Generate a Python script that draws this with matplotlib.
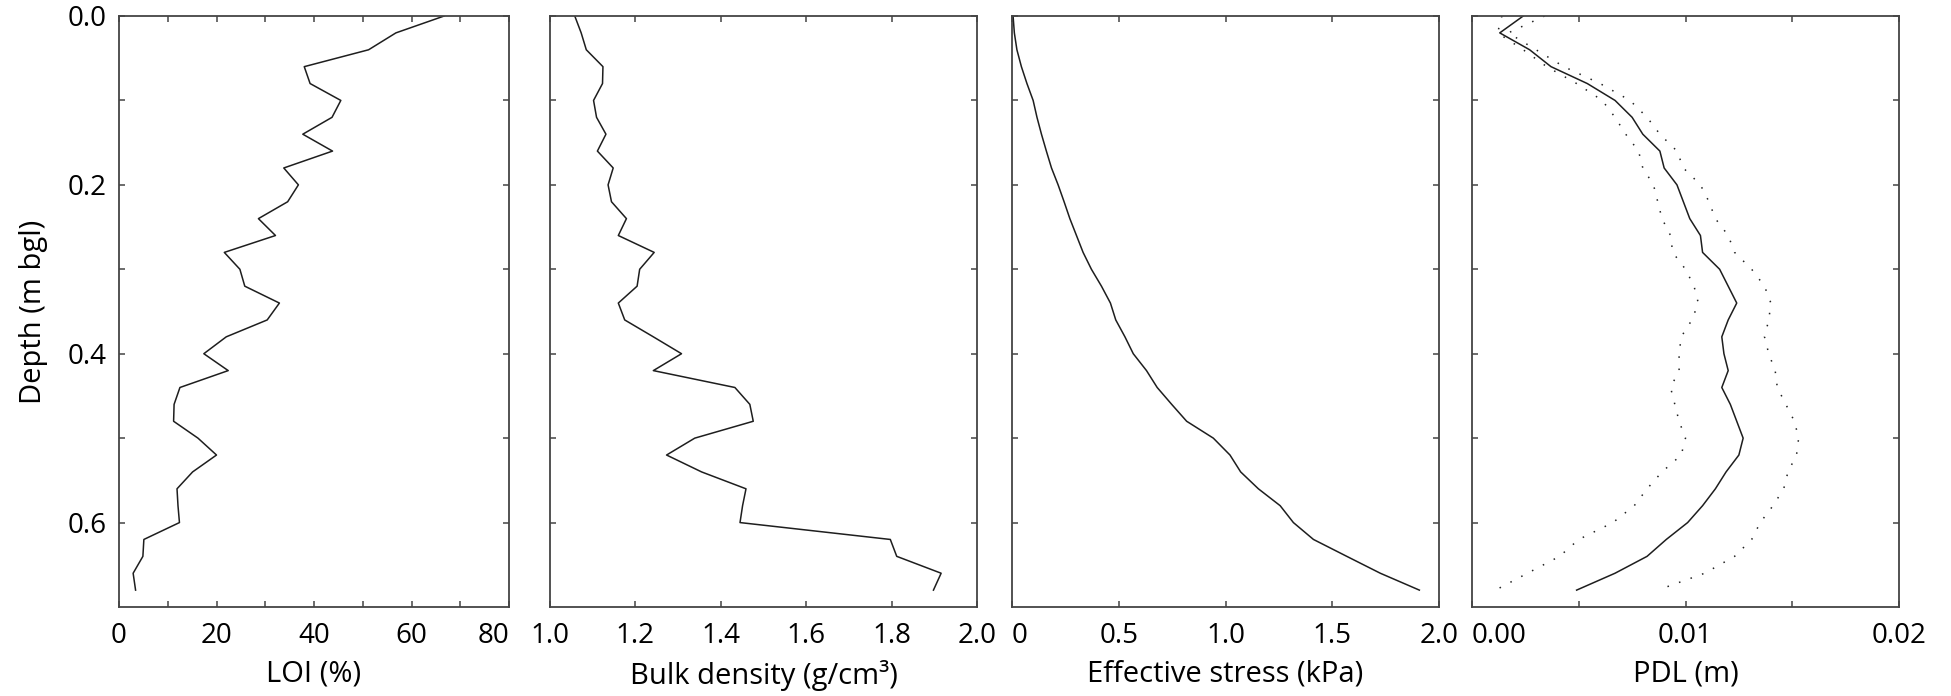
import matplotlib
matplotlib.use("Agg")
import matplotlib.pyplot as plt

plt.rcParams['font.family'] = ['Open Sans', 'DejaVu Sans']

depth = [0.00, 0.02, 0.04, 0.06, 0.08, 0.10, 0.12, 0.14, 0.16, 0.18,
         0.20, 0.22, 0.24, 0.26, 0.28, 0.30, 0.32, 0.34, 0.36, 0.38,
         0.40, 0.42, 0.44, 0.46, 0.48, 0.50, 0.52, 0.54, 0.56, 0.58,
         0.60, 0.62, 0.64, 0.66, 0.68]

loi = [66.7, 56.8, 51.2, 38.0, 39.2, 45.5, 43.7, 37.7, 43.8, 33.8,
       36.8, 34.6, 28.6, 32.1, 21.6, 24.8, 25.8, 32.9, 30.4, 22.0,
       17.4, 22.4, 12.5, 11.3, 11.2, 16.2, 20.0, 15.1, 11.9, 12.1,
       12.4, 5.1, 4.9, 2.9, 3.4]

bulk_density = [1.058, 1.073, 1.085, 1.124, 1.123, 1.102, 1.109, 1.131, 1.111, 1.148,
                1.136, 1.144, 1.179, 1.160, 1.244, 1.210, 1.204, 1.160, 1.175, 1.242,
                1.308, 1.242, 1.433, 1.468, 1.476, 1.339, 1.273, 1.355, 1.459, 1.451,
                1.445, 1.797, 1.812, 1.916, 1.898]

eff_stress = [0.005, 0.011, 0.023, 0.044, 0.070, 0.099, 0.117, 0.138, 0.161, 0.185,
              0.216, 0.244, 0.271, 0.302, 0.333, 0.372, 0.419, 0.461, 0.486, 0.529,
              0.568, 0.630, 0.680, 0.748, 0.818, 0.943, 1.021, 1.071, 1.154, 1.256,
              1.318, 1.412, 1.568, 1.725, 1.908]

pdl = [0.0024, 0.0013, 0.0027, 0.0037, 0.0054, 0.0067, 0.0075, 0.0080, 0.0088, 0.0090,
       0.0096, 0.0099, 0.0102, 0.0107, 0.0108, 0.0116, 0.0120, 0.0124, 0.0120, 0.0117,
       0.0118, 0.0120, 0.0117, 0.0121, 0.0124, 0.0127, 0.0125, 0.0119, 0.0114, 0.0108,
       0.0101, 0.0091, 0.0082, 0.0067, 0.0049]

pdl_low = [0.0014, 0.0012, 0.0024, 0.0035, 0.0049, 0.0061, 0.0067, 0.0072, 0.0078, 0.0080,
           0.0085, 0.0087, 0.0089, 0.0093, 0.0094, 0.0100, 0.0104, 0.0106, 0.0103, 0.0098,
           0.0097, 0.0097, 0.0093, 0.0095, 0.0097, 0.0100, 0.0098, 0.0089, 0.0082, 0.0076,
           0.0066, 0.0050, 0.0041, 0.0026, 0.0011]

pdl_high = [0.0034, 0.0017, 0.0030, 0.0043, 0.0060, 0.0074, 0.0082, 0.0088, 0.0096, 0.0099,
            0.0107, 0.0111, 0.0114, 0.0120, 0.0123, 0.0131, 0.0137, 0.0140, 0.0139, 0.0137,
            0.0139, 0.0142, 0.0143, 0.0147, 0.0151, 0.0153, 0.0152, 0.0148, 0.0146, 0.0141,
            0.0135, 0.0131, 0.0123, 0.0109, 0.0087]

W, H = 1951, 696
fig = plt.figure(figsize=(W / 100, H / 100), dpi=100)

top, bottom = 16, 607
panels = [(119, 509), (550, 977), (1012, 1439), (1472, 1899)]
axes = []
for left, right in panels:
    ax = fig.add_axes([left / W, (H - bottom) / H, (right - left) / W, (bottom - top) / H])
    axes.append(ax)

line_kw = dict(color='#1e1e1e', lw=1.1)
spine_col = '#444444'
tick_fs = 20
label_fs = 21


def style(ax):
    ax.set_ylim(0.7, 0.0)
    ax.set_yticks([0.0, 0.1, 0.2, 0.3, 0.4, 0.5, 0.6])
    for s in ax.spines.values():
        s.set_linewidth(1.3)
        s.set_color(spine_col)
    ax.tick_params(direction='in', length=4, width=1.1, color=spine_col,
                   top=True, right=True, labelsize=tick_fs)
    ax.tick_params(axis='x', pad=11)
    ax.tick_params(axis='y', pad=9)


# LOI
ax = axes[0]
ax.plot(loi, depth, **line_kw)
style(ax)
ax.set_xlim(0, 80)
ax.set_xticks(range(0, 81, 10))
ax.set_xticklabels(['0', '', '20', '', '40', '', '60', '', '80'])
ax.set_yticklabels(['0.0', '', '0.2', '', '0.4', '', '0.6'])
ax.set_xlabel('LOI (%)', fontsize=label_fs, labelpad=7)
ax.set_ylabel('Depth (m bgl)', fontsize=label_fs, labelpad=14)
ax.get_xticklabels()[8].set_horizontalalignment('right')

# bulk density
ax = axes[1]
ax.plot(bulk_density, depth, **line_kw)
style(ax)
ax.set_xlim(1.0, 2.0)
ax.set_xticks([1.0, 1.2, 1.4, 1.6, 1.8, 2.0])
ax.set_xticklabels(['1.0', '1.2', '1.4', '1.6', '1.8', '2.0'])
ax.set_yticklabels([])
ax.set_xlabel('Bulk density (g/cm³)', fontsize=label_fs, labelpad=7)

# effective stress
ax = axes[2]
ax.plot(eff_stress, depth, **line_kw)
style(ax)
ax.set_xlim(0, 2.0)
ax.set_xticks([0, 0.5, 1.0, 1.5, 2.0])
ax.set_xticklabels(['0', '0.5', '1.0', '1.5', '2.0'])
ax.set_yticklabels([])
ax.set_xlabel('Effective stress (kPa)', fontsize=label_fs, labelpad=7)
ax.get_xticklabels()[0].set_horizontalalignment('left')

# PDL
ax = axes[3]
ax.plot(pdl_low, depth, color='#222222', lw=1.1, linestyle=(0, (1, 7)))
ax.plot(pdl_high, depth, color='#222222', lw=1.1, linestyle=(0, (1, 7)))
ax.plot(pdl, depth, **line_kw)
style(ax)
ax.set_xlim(0, 0.02)
ax.set_xticks([0, 0.005, 0.01, 0.015, 0.02])
ax.set_xticklabels(['0.00', '', '0.01', '', '0.02'])
ax.set_yticklabels([])
ax.set_xlabel('PDL (m)', fontsize=label_fs, labelpad=7)
ax.get_xticklabels()[0].set_horizontalalignment('left')

fig.savefig('out.png', dpi=100)
